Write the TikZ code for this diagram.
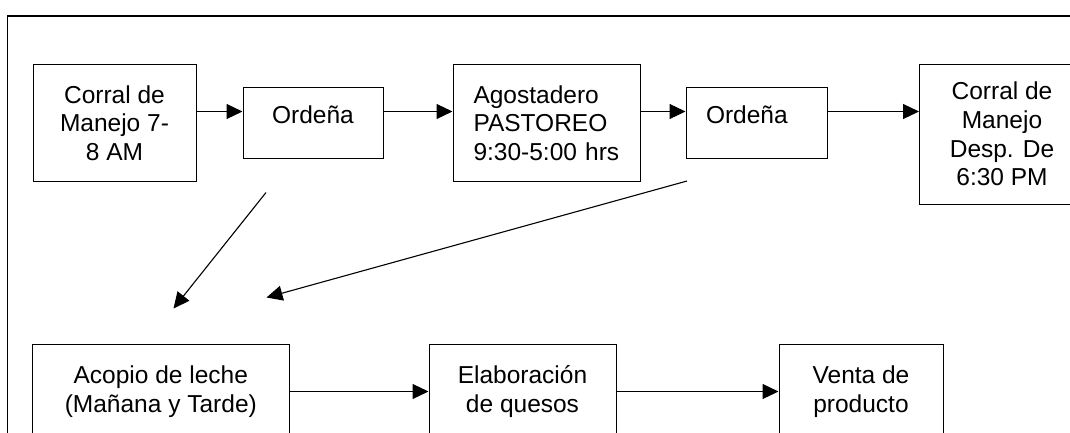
\documentclass[tikz,border=0pt]{standalone}
\usepackage{fontspec}
\setmainfont{Liberation Sans}
\usetikzlibrary{arrows.meta}

\tikzset{
  caja/.style={draw, line width=1pt, align=center, inner sep=2pt},
  flecha/.style={-{Triangle[length=16pt,width=15pt]}, line width=1.1pt},
}

\begin{document}
\begin{tikzpicture}[x=1pt,y=-1pt,font=\fontsize{24.5}{28.7}\selectfont]

\useasboundingbox (0,0) rectangle (1070,432);
\draw [line width=1.4pt] (7.5,445) -- (7.5,16) -- (1085,16);

% fila de arriba
\node [caja, minimum width=163pt, minimum height=117pt] (corral1) at (114.5,123) {Corral de\\ Manejo 7-\\ 8 AM};
\node [caja, minimum width=140pt, minimum height=70.6pt, text height=17pt, text depth=17pt] (ordena1) at (313,123) {Ordeña};
\node [caja, minimum width=187pt, minimum height=117pt, text width=146pt, align=left] (agosta) at (546.5,123) {Agostadero\\ PASTOREO\\ 9:30-5:00 hrs};
\node [caja, minimum width=141pt, minimum height=70.6pt, text width=101pt, align=left, text height=17pt, text depth=17pt] (ordena2) at (756.5,123) {Ordeña};
\node [caja, minimum width=165pt, minimum height=140pt] (corral2) at (1002,134) {Corral de\\ Manejo\\ Desp. De\\ 6:30 PM};

\draw [flecha] ([yshift=11.5pt]corral1.east) -- ([yshift=11.5pt]ordena1.west);
\draw [flecha] ([yshift=11.5pt]ordena1.east) -- ([yshift=11.5pt]agosta.west);
\draw [flecha] ([yshift=11.5pt]agosta.east) -- ([yshift=11.5pt]ordena2.west);
\draw [flecha] ([yshift=11.5pt]ordena2.east) -- ([yshift=22.5pt]corral2.west);

% flechas sueltas hacia el acopio
\coordinate (sale1) at (266,192.5);
\coordinate (llega1) at (173.5,308.5);
\coordinate (sale2) at (687,181);
\coordinate (llega2) at (266.5,297.5);
\draw [flecha] (sale1) -- (llega1);
\draw [flecha] (sale2) -- (llega2);

% fila de abajo
\node [caja, minimum width=257pt, minimum height=94pt] (acopio) at (160.8,391.5) {Acopio de leche\\ (Mañana y Tarde)};
\node [caja, minimum width=187pt, minimum height=94pt] (quesos) at (522.5,391.5) {Elaboración\\ de quesos};
\node [caja, minimum width=164pt, minimum height=94pt] (venta) at (861,391.5) {Venta de\\ producto};

\draw [flecha] (acopio) -- (quesos);
\draw [flecha] (quesos) -- (venta);

\end{tikzpicture}
\end{document}
